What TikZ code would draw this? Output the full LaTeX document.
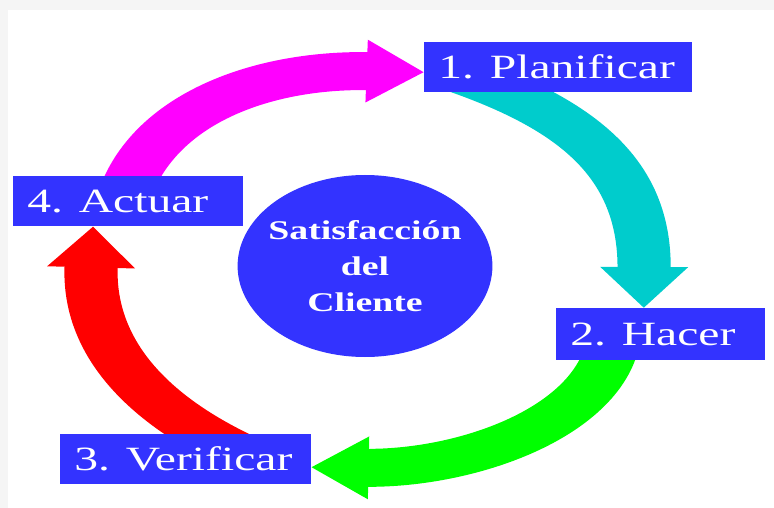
\documentclass[tikz,border=0pt]{standalone}
\usepackage{fontspec}
\setmainfont{Liberation Serif}
\usetikzlibrary{arrows.meta}
\pgfdeclarelayer{background}
\pgfsetlayers{background,main}
\definecolor{azul}{RGB}{51,51,255}
\definecolor{rosa}{RGB}{255,0,255}
\definecolor{turquesa}{RGB}{0,204,204}
\definecolor{verde}{RGB}{0,255,0}
\definecolor{rojo}{RGB}{255,0,0}
\frenchspacing

\begin{document}
\begin{tikzpicture}[
    paso/.style={fill=azul, text=white, anchor=north west, minimum height=50pt, inner xsep=10pt, inner ysep=0pt, align=left, font=\fontsize{34}{40}\selectfont},
    flecha/.style={line width=38pt, -{Triangle[length=41pt, width=60pt]}},
    estirado/.style={transform canvas={xscale=1.4}, x=0.7143pt, y=-1pt}
]
    \useasboundingbox (0,0) rectangle (774pt,-508pt);
    \fill[gray!8] (0,0) rectangle (774pt,-10pt);
    \fill[gray!8] (0,0) rectangle (8pt,-508pt);

    \begin{scope}[estirado]
        \node[paso, text width=171pt] (plan) at (424,42) {\mbox{1. Planificar}};
        \node[paso, text width=129pt, minimum height=52pt] (hacer) at (556,308) {\mbox{2. Hacer}};
        \node[paso, text width=159pt] (verif) at (60,434) {\mbox{3. Verificar}};
        \node[paso, text width=144pt] (act) at (13,176) {\mbox{4. Actuar}};

        \node[circle, fill=azul, text=white, minimum size=182pt, inner sep=0pt, align=center, font=\bfseries\fontsize{27}{36}\selectfont] (cliente) at (365,266) {Satisfacción\\del\\Cliente};
    \end{scope}

    % flechas del ciclo, debajo de las cajas
    \begin{pgfonlayer}{background}
    \begin{scope}[estirado]
        \draw[flecha, rosa] ([xshift=-4pt]act.center) .. controls (150,110) and (260,69) .. ([yshift=-5pt]plan.west);
        \draw[flecha, turquesa] ([xshift=-74pt, yshift=-5pt]plan.center) .. controls (580,115) and (645,170) .. ([xshift=-12pt]hacer.north);
        \draw[flecha, verde] ([xshift=-33pt]hacer.center) .. controls (605,420) and (470,469) .. ([yshift=-8pt]verif.east);
        \draw[flecha, rojo] ([xshift=43pt, yshift=4pt]verif.center) .. controls (125,400) and (88,330) .. ([xshift=-25pt]act.south);
    \end{scope}
    \end{pgfonlayer}
\end{tikzpicture}
\end{document}
